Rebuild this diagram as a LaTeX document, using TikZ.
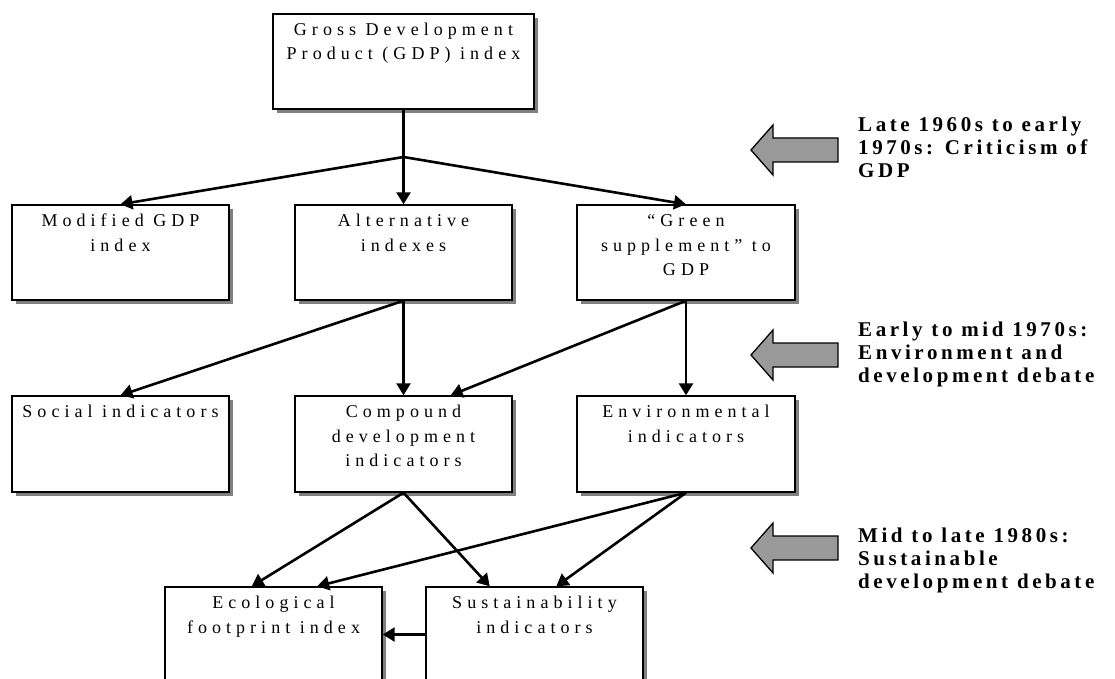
\documentclass[tikz,border=0pt]{standalone}
\usepackage{fontspec}
\setmainfont{Liberation Serif}
\newfontfamily\boxfontfam[LetterSpace=28]{Liberation Serif}
\newfontfamily\lblfontfam[LetterSpace=17]{Liberation Serif}
\usetikzlibrary{arrows.meta,shadows,calc}
\newcommand\boxtext{\fontsize{18}{24.5}\selectfont\boxfontfam}
\newcommand\lbltext{\fontsize{21}{23}\selectfont\lblfontfam\bfseries}
\newcommand\fl{\rule{0pt}{15pt}}
\newcommand\fll{\rule{0pt}{17pt}}
\tikzset{
  box/.style={draw, line width=1.4pt, fill=white, minimum width=217pt, minimum height=95pt, inner sep=0pt,
    drop shadow={shadow xshift=4pt, shadow yshift=-4pt, fill=black!50, opacity=1}},
  txt/.style={anchor=north, inner sep=0pt, align=center, font=\boxtext},
  conn/.style={line width=2.6pt, -{Triangle[length=12pt,width=14pt]}},
  bigarrow/.style={draw, line width=1.3pt, fill=black!40},
  lbl/.style={anchor=north west, inner sep=0pt, align=left, font=\lbltext}
}
\begin{document}
\begin{tikzpicture}[x=1pt,y=-1pt]
\useasboundingbox (0,0) rectangle (1115,679);
\clip (0,0) rectangle (1115,679);
% boxes
\node[box, minimum width=261pt] (gdp) at (403.5,61.5) {};
\node[box] (mod) at (120.5,252.5) {};
\node[box] (alt) at (403.5,252.5) {};
\node[box, minimum width=218pt] (grn) at (686,252.5) {};
\node[box, minimum height=96pt] (soc) at (120.5,444) {};
\node[box, minimum height=96pt] (cmp) at (403.5,444) {};
\node[box, minimum width=218pt, minimum height=96pt] (env) at (686,444) {};
\node[box] (eco) at (273.5,634.5) {};
\node[box] (sus) at (534.5,634.5) {};
% texts
\node[txt] (tgdp) at ($(gdp.north)+(0,7)$) {\fl Gross Development\\Product (GDP) index};
\node[txt] (tmod) at ($(mod.north)+(0,7)$) {\fl Modified GDP\\index};
\node[txt] (talt) at ($(alt.north)+(0,7)$) {\fl Alternative\\indexes};
\node[txt] (tgrn) at ($(grn.north)+(0,7)$) {\fl “Green\\supplement” to\\GDP};
\node[txt] (tsoc) at ($(soc.north)+(0,7)$) {\fl Social indicators};
\node[txt] (tcmp) at ($(cmp.north)+(0,7)$) {\fl Compound\\development\\indicators};
\node[txt] (tenv) at ($(env.north)+(0,7)$) {\fl Environmental\\indicators};
\node[txt] (teco) at ($(eco.north)+(0,7)$) {\fl Ecological\\footprint index};
\node[txt] (tsus) at ($(sus.north)+(0,7)$) {\fl Sustainability\\indicators};
% connectors
\coordinate (j) at (403.5,157);
\draw[line width=2.6pt] (gdp.south) -- (j);
\draw[conn] (j) -- (mod.north);
\draw[conn] (j) -- (alt.north);
\draw[conn] (j) -- (grn.north);
\draw[conn] (alt.south) -- (soc.north);
\draw[conn] (alt.south) -- (cmp.north);
\draw[conn] (grn.south) -- ($(cmp.north west)!0.716!(cmp.north east)$);
\draw[conn] (grn.south) -- (env.north);
\draw[conn] (cmp.south) -- ($(eco.north west)!0.40!(eco.north east)$);
\draw[conn] (cmp.south) -- ($(sus.north west)!0.295!(sus.north east)$);
\draw[conn] (env.south) -- ($(eco.north west)!0.70!(eco.north east)$);
\draw[conn] (env.south) -- ($(sus.north west)!0.60!(sus.north east)$);
\draw[conn] (sus.west) -- (eco.east);
% big arrows
\foreach \c in {150,355,548}{
  \draw[bigarrow] (751,\c) -- (773,\c-25) -- (773,\c-12) -- (838,\c-12) -- (838,\c+12) -- (773,\c+12) -- (773,\c+25) -- cycle;
}
% labels
\node[lbl] (l1) at (858,114) {\fll Late 1960s to early\\1970s: Criticism of\\GDP};
\node[lbl] (l2) at (858,319) {\fll Early to mid 1970s:\\Environment and\\development debate};
\node[lbl] (l3) at (858,525) {\fll Mid to late 1980s:\\Sustainable\\development debate};
\end{tikzpicture}
\end{document}
